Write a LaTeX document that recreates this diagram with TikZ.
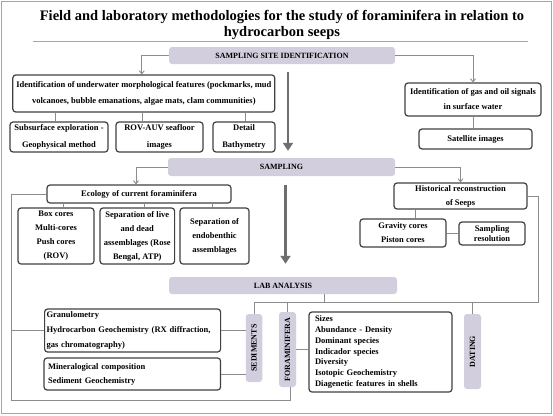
\documentclass[tikz,border=0pt]{standalone}
\usepackage{fontspec}
\setmainfont{Liberation Serif}
\usetikzlibrary{arrows.meta}

\definecolor{lavender}{HTML}{D2CEDE}
\definecolor{boxline}{HTML}{404040}
\definecolor{linkgray}{HTML}{8C8C8C}
\definecolor{bigarrow}{HTML}{6E6E6E}
\definecolor{framegray}{HTML}{A6A6A6}

\begin{document}
\begin{tikzpicture}[x=1pt,y=-1pt]

      \tikzstyle{stage}=[rectangle,rounded corners=3pt,fill=lavender,
        inner sep=0pt,align=center,
        font=\fontsize{8}{10}\selectfont\bfseries]
      \tikzstyle{item}=[rectangle,rounded corners=3pt,draw=boxline,
        line width=1.2pt,inner sep=2pt,align=center,
        font=\fontsize{8.5}{14}\selectfont\bfseries]
      \tikzstyle{link}=[linkgray,line width=0.9pt]
      \tikzstyle{tip}=[-{Straight Barb[length=3pt,width=5pt]}]
      \tikzstyle{flow}=[bigarrow,line width=2.7pt,
        -{Triangle[length=8pt,width=10pt]}]

      \useasboundingbox (0,0) rectangle (553,415);
      \draw [framegray,line width=1pt] (1.5,1.5) rectangle (551.5,413.5);

      \node(Title)[align=center,font=\fontsize{14.5}{16.5}\selectfont\bfseries]
        at (282,25) {Field and laboratory methodologies for the study of
        foraminifera in relation to\\hydrocarbon seeps};
      \draw [framegray,line width=0.8pt] (32.5,41.7)--(528,41.7);

      % sampling site identification
      \node(SiteID)[stage,minimum width=226,minimum height=17]
        at (282,55.5) {SAMPLING SITE IDENTIFICATION};
      \node(Underwater)[item,minimum width=262,minimum height=37,
        font=\fontsize{8.5}{16}\selectfont\bfseries] at (143.8,93.5)
        {Identification of underwater morphological features (pockmarks, mud\\
        volcanoes, bubble emanations, algae mats, clam communities)};
      \node(Subsurface)[item,minimum width=98,minimum height=30,
        font=\fontsize{8.5}{17}\selectfont\bfseries] at (59,137)
        {Subsurface exploration -\\Geophysical method};
      \node(ROVAUV)[item,minimum width=87,minimum height=30,
        font=\fontsize{8.5}{17}\selectfont\bfseries] at (159.5,137)
        {ROV-AUV seafloor\\images};
      \node(Bathymetry)[item,minimum width=62,minimum height=30,
        font=\fontsize{8.5}{17}\selectfont\bfseries] at (244,137)
        {Detail\\Bathymetry};
      \node(GasOil)[item,minimum width=136,minimum height=33,
        font=\fontsize{8.5}{15}\selectfont\bfseries] at (473,99.5)
        {Identification of gas and oil signals\\in surface water};
      \node(Satellite)[item,minimum width=113,minimum height=20]
        at (475.5,139) {Satellite images};

      \draw [link,tip] (SiteID.west) -| ([xshift=-2pt]Underwater.north);
      \draw [link,tip] (SiteID.east) -| (GasOil.north);
      \draw [link] ([xshift=-4pt]Subsurface.north)
        --([xshift=-4pt]Subsurface.north |- Underwater.south);
      \draw [link] ([xshift=-17.5pt]ROVAUV.north)
        --([xshift=-17.5pt]ROVAUV.north |- Underwater.south);
      \draw [link] ([xshift=1pt]Bathymetry.north)
        --([xshift=1pt]Bathymetry.north |- Underwater.south);
      \draw [link] (GasOil.south)--(GasOil.south |- Satellite.north);

      % sampling
      \node(Sampling)[stage,minimum width=227,minimum height=18]
        at (281.5,167) {SAMPLING};
      \draw [flow] ([xshift=6pt,yshift=-8pt]SiteID.south)
        --([xshift=6.5pt,yshift=7pt]Sampling.north);

      \node(Ecology)[item,minimum width=184,minimum height=18]
        at (139,194) {Ecology of current foraminifera};
      \node(BoxCores)[item,minimum width=76,minimum height=56]
        at (56,236) {Box cores\\Multi-cores\\Push cores\\(ROV)};
      \node(LiveDead)[item,minimum width=74.6,minimum height=56]
        at (137.3,236) {Separation of live\\and dead\\assemblages (Rose\\Bengal, ATP)};
      \node(Endobenthic)[item,minimum width=69,minimum height=56]
        at (214.5,236) {Separation of\\endobenthic\\assemblages};
      \node(History)[item,minimum width=133,minimum height=26]
        at (460.5,196) {Historical reconstruction\\of Seeps};
      \node(Gravity)[item,minimum width=86,minimum height=28]
        at (403,233) {Gravity cores\\Piston cores};
      \node(Resolution)[item,minimum width=66,minimum height=23,
        font=\fontsize{8.5}{10}\selectfont\bfseries] at (492,233.5)
        {Sampling\\resolution};

      \draw [link,tip] (Sampling.west) -| ([xshift=-3pt]Ecology.north);
      \draw [link,tip] (Sampling.east) -| (History.north);
      \draw [link] ([xshift=7.5pt]BoxCores.north)
        --([xshift=7.5pt]BoxCores.north |- Ecology.south);
      \draw [link] ([xshift=7.3pt]LiveDead.north)
        --([xshift=7.3pt]LiveDead.north |- Ecology.south);
      \draw [link] ([xshift=-2.5pt]Endobenthic.north)
        --([xshift=-2.5pt]Endobenthic.north |- Ecology.south);
      \draw [link] ([xshift=12pt]Gravity.north)
        --([xshift=12pt]Gravity.north |- History.south);
      \draw [link] (Gravity.east)--(Gravity.east -| Resolution.west);

      % lab analysis
      \node(Lab)[stage,minimum width=228,minimum height=17]
        at (283,285.5) {LAB ANALYSIS};
      \draw [flow] ([xshift=4pt,yshift=-9pt]Sampling.south)
        --([xshift=2.5pt,yshift=13pt]Lab.north);

      \node(Sediments)[stage,minimum width=16.5,minimum height=68]
        at (254,348) {\rotatebox{90}{SEDIMENTS}};
      \node(Foram)[stage,minimum width=17,minimum height=75]
        at (287.5,349.5) {\rotatebox{90}{FORAMINIFERA}};
      \node(Dating)[stage,minimum width=17,minimum height=75]
        at (472.5,351.5) {\rotatebox{90}{DATING}};
      \node(Granulo)[item,minimum width=176,minimum height=43,
        align=left,text width=172,font=\fontsize{8.5}{14.7}\selectfont\bfseries]
        at (132.6,330.5) {Granulometry\\Hydrocarbon Geochemistry (RX diffraction,\\
        gas chromatography)};
      \node(Mineral)[item,minimum width=176.5,minimum height=32,
        align=left,inner xsep=4pt,text width=168.5] at (132.3,374)
        {Mineralogical composition\\Sediment Geochemistry};
      \node(Sizes)[item,minimum width=143,minimum height=80,
        align=left,inner xsep=6pt,text width=131,
        font=\fontsize{8.5}{10.7}\selectfont\bfseries] at (380.5,352)
        {Sizes\\Abundance - Density\\Dominant species\\Indicador species\\
        Diversity\\Isotopic Geochemistry\\Diagenetic features in shells};

      \coordinate(LabBus) at ([yshift=-8.3pt]Lab.south);
      \coordinate(LeftSpine) at ([xshift=-32.5pt]Granulo.west);
      \draw [link] (History.east)--++(11,0) |- (LabBus -| Sediments.north)
        --(Sediments.north);
      \draw [link] ([xshift=41pt]Lab.south)--([xshift=41pt]Lab.south |- LabBus);
      \draw [link] (LabBus -| Foram.north)--(Foram.north);
      \draw [link] (LabBus -| Dating.north)--(Dating.north);
      \draw [link] (Ecology.west) -| (LeftSpine)
        |- ([xshift=2.5pt,yshift=-13.7pt]Foram.south)
        --([xshift=2.5pt]Foram.south);
      \draw [link] (LeftSpine)--(Granulo.west);
      \draw [link] (Granulo.east)--(Granulo.east -| Sediments.west);
      \draw [link] (Mineral.east)--(Mineral.east -| Sediments.west);
      \draw [link] (Foram.east)--(Foram.east -| Sizes.west);

    \end{tikzpicture}
\end{document}
